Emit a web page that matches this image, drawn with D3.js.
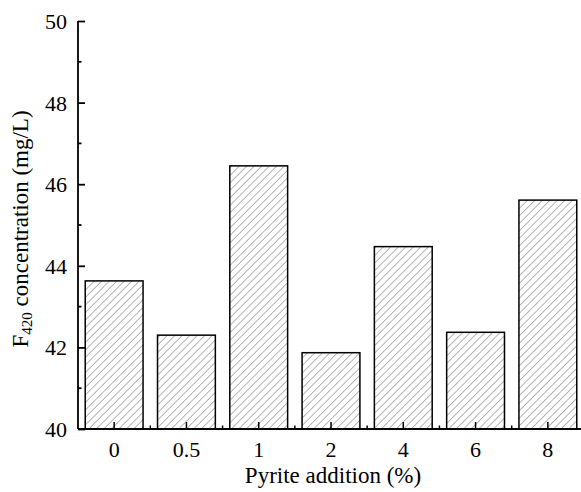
<!DOCTYPE html>
<html>
<head>
<meta charset="utf-8">
<script src="https://cdn.jsdelivr.net/npm/d3@7"></script>
<style>
  html, body { margin: 0; padding: 0; background: #fff; }
  svg { display: block; }
  svg text { font-family: "Liberation Serif", "Times New Roman", serif; fill: #000; }
</style>
</head>
<body>
<svg id="chart" width="581" height="492"></svg>
<script>
const categories = ["0", "0.5", "1", "2", "4", "6", "8"];
const values = [43.63, 42.30, 46.45, 41.87, 44.47, 42.37, 45.61];
const yTicks = [40, 42, 44, 46, 48, 50];
const yMinorTicks = [41, 43, 45, 47, 49];
const xTitle = "Pyrite addition (%)";
const yTitleMain = "F";
const yTitleSub = "420";
const yTitleRest = " concentration (mg/L)";

(function () {
const FONT = "Liberation Serif, Times New Roman, serif";
const svg = d3.select("#chart");
const mLeft = 78, mRight = 584, mTop = 21, mBottom = 429;

const x = d3.scaleBand().domain(categories).range([mLeft, mRight]).paddingInner(0.2).paddingOuter(0.1);
const y = d3.scaleLinear().domain([40, 50]).range([mBottom, mTop]);

const defs = svg.append("defs");
const pat = defs.append("pattern")
  .attr("id", "hatch")
  .attr("patternUnits", "userSpaceOnUse")
  .attr("width", 5.3).attr("height", 5.3)
  .attr("patternTransform", "rotate(45)");
pat.append("rect").attr("width", 5.3).attr("height", 5.3).attr("fill", "#fff");
pat.append("line").attr("x1", 0).attr("y1", 0).attr("x2", 0).attr("y2", 5.3)
  .attr("stroke", "#7a7a7a").attr("stroke-width", 1.1);

// bars
svg.append("g").selectAll("rect").data(categories).join("rect")
  .attr("x", d => x(d))
  .attr("y", (d, i) => y(values[i]))
  .attr("width", x.bandwidth())
  .attr("height", (d, i) => y(40) - y(values[i]))
  .attr("fill", "url(#hatch)")
  .attr("stroke", "#000")
  .attr("stroke-width", 1.5);

// y axis
const yAxis = d3.axisLeft(y).tickValues(yTicks).tickSize(-7).tickPadding(11).tickFormat(d3.format("d"));
const gy = svg.append("g").attr("transform", `translate(${mLeft},0)`).call(yAxis)
  .attr("font-family", FONT).attr("font-size", 22);
gy.select(".domain").attr("stroke-width", 1.8).attr("d", `M0,${mBottom}V${mTop}`);
gy.selectAll(".tick line").attr("stroke-width", 1.8);
gy.selectAll(".tick text").attr("dy", "0.34em");
svg.append("g").attr("transform", `translate(${mLeft},0)`)
  .selectAll("line").data(yMinorTicks).join("line")
  .attr("x1", 0).attr("x2", 3.5).attr("y1", d => y(d)).attr("y2", d => y(d))
  .attr("stroke", "#000").attr("stroke-width", 1.8);

// x axis
const xAxis = d3.axisBottom(x).tickSize(-7).tickPadding(12);
const gx = svg.append("g").attr("transform", `translate(0,${mBottom})`).call(xAxis)
  .attr("font-family", FONT).attr("font-size", 22);
gx.select(".domain").attr("stroke-width", 1.8).attr("d", `M${mLeft},0H${mRight}`);
gx.selectAll(".tick line").attr("stroke-width", 1.5);
const bounds = categories.slice(1).map(c => x(c) - x.step() * x.paddingInner() / 2);
svg.append("g").attr("transform", `translate(0,${mBottom})`)
  .selectAll("line").data(bounds).join("line")
  .attr("x1", d => d).attr("x2", d => d).attr("y1", 0).attr("y2", -3.5)
  .attr("stroke", "#000").attr("stroke-width", 1.5);

// axis titles
svg.append("text")
  .attr("x", 333).attr("y", 483)
  .attr("text-anchor", "middle")
  .attr("font-family", FONT)
  .attr("font-size", 23)
  .text(xTitle);

const yt = svg.append("text")
  .attr("transform", `translate(28,229) rotate(-90)`)
  .attr("text-anchor", "middle")
  .attr("font-family", FONT)
  .attr("font-size", 23);
yt.append("tspan").text(yTitleMain);
yt.append("tspan").attr("dy", 4).attr("font-size", 15).text(yTitleSub);
yt.append("tspan").attr("dy", -4).text(yTitleRest);
})();
</script>
</body>
</html>
